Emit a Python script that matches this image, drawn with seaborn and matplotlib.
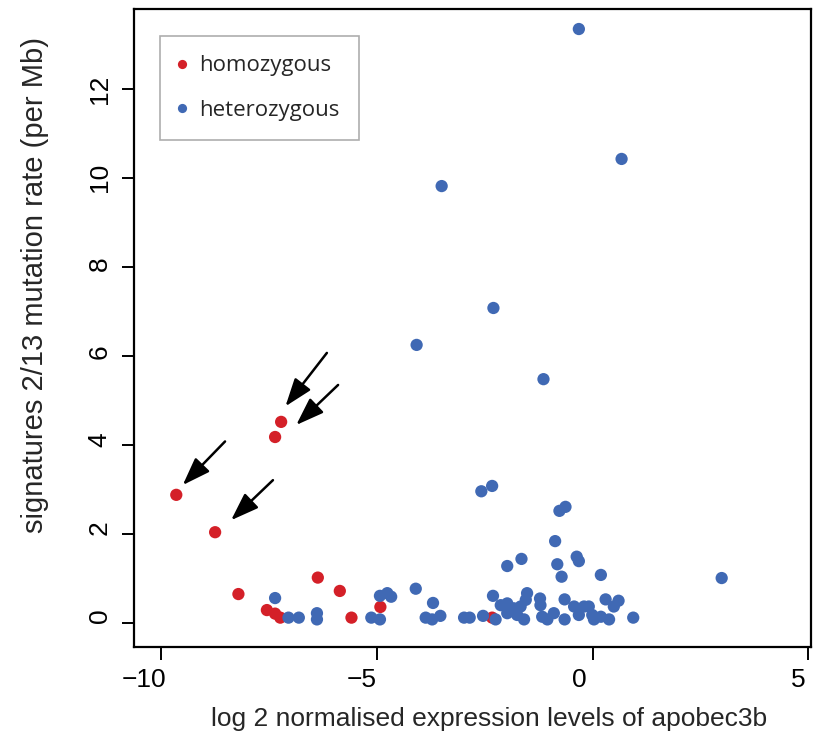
import matplotlib
matplotlib.use("Agg")
import matplotlib.pyplot as plt
import matplotlib.transforms as mtransforms
import seaborn as sns
import pandas as pd

# ---- data ----
homo_x = [-9.65, -8.75, -7.36, -7.22, -8.21, -7.55, -7.36, -7.24, -6.37, -5.86, -5.59, -4.92, -2.33]
homo_y = [2.88, 2.04, 4.18, 4.52, 0.65, 0.29, 0.21, 0.12, 1.02, 0.72, 0.12, 0.36, 0.12]

het_x = [-0.32, 0.67, -3.50, -2.30, -4.08, -1.14,
         -2.58, -2.33, -0.77, -0.63, -0.87, -1.98, -1.65, -0.82, -0.72, -0.37, -0.32, 0.19, 2.99,
         -7.36, -7.05, -6.81, -6.39, -6.39, -5.13, -4.93, -4.93, -4.76, -4.67, -4.10, -3.70,
         -3.87, -3.72, -3.53, -2.98, -2.85, -2.54, -2.31, -2.13, -1.98, -1.83, -1.67, -1.52,
         -1.55, -1.98, -1.75, -1.59, -2.25, -1.22, -1.21, -1.17, -1.05, -0.90, -0.65, -0.65,
         -0.43, -0.32, -0.20, -0.09, -0.01, 0.03, 0.19, 0.30, 0.38, 0.49, 0.60, 0.94]
het_y = [13.35, 10.43, 9.82, 7.08, 6.25, 5.48,
         2.96, 3.08, 2.52, 2.61, 1.84, 1.28, 1.44, 1.32, 1.04, 1.49, 1.39, 1.08, 1.01,
         0.56, 0.12, 0.12, 0.22, 0.08, 0.12, 0.08, 0.61, 0.67, 0.59, 0.77, 0.45,
         0.12, 0.08, 0.16, 0.12, 0.12, 0.16, 0.61, 0.40, 0.44, 0.33, 0.37, 0.67,
         0.52, 0.22, 0.18, 0.08, 0.08, 0.55, 0.40, 0.14, 0.08, 0.22, 0.53, 0.08,
         0.37, 0.18, 0.37, 0.37, 0.18, 0.08, 0.14, 0.53, 0.08, 0.37, 0.50, 0.12]

groups = ["homozygous", "heterozygous"]
colors = ["#D42028", "#4069B4"]

x_ticks = [-10, -5, 0, 5]
x_tick_labels = ["\u221210", "\u22125", "0", "5"]
y_ticks = [0, 2, 4, 6, 8, 10, 12]

# arrows (tail_x, tail_y, tip_x, tip_y) in data units
arrows = [(-6.16, 6.07, -7.12, 4.87),
          (-5.90, 5.35, -6.87, 4.45),
          (-8.52, 4.08, -9.50, 3.10),
          (-7.41, 3.21, -8.38, 2.31)]

df = pd.DataFrame({
    "x": homo_x + het_x,
    "y": homo_y + het_y,
    "group": [groups[0]] * len(homo_x) + [groups[1]] * len(het_x),
})

sns.set_theme(style="white")
plt.rcParams["font.family"] = ["Liberation Sans", "DejaVu Sans"]

fig = plt.figure(figsize=(8.24, 7.47), dpi=100)
ax = fig.add_axes([134 / 824, 1 - 647 / 747, (811 - 134) / 824, (647 - 9) / 747])

sns.scatterplot(data=df, x="x", y="y", hue="group", hue_order=groups,
                palette=colors, s=78, linewidth=0, ax=ax, legend=True)

for tx, ty, hx, hy in arrows:
    ax.annotate("", xy=(hx, hy), xytext=(tx, ty),
                arrowprops=dict(arrowstyle="-|>,head_length=0.9,head_width=0.32",
                                color="black", lw=1.8, shrinkA=0, shrinkB=0,
                                mutation_scale=19))

ax.set_xlim(-10.63, 5.06)
ax.set_ylim(-0.54, 13.8)
ax.set_xticks(x_ticks)
ax.set_xticklabels(x_tick_labels)
ax.set_yticks(y_ticks)
ax.set_yticklabels([str(v) for v in y_ticks], rotation=90, va="center")

ax.tick_params(axis="both", which="both", direction="out", length=9, width=1.4,
               color="black", labelsize=19, labelcolor="black",
               bottom=True, left=True)
ax.tick_params(axis="x", pad=6)
ax.tick_params(axis="y", pad=7)

# small label offsets relative to the ticks, as in the reference layout
for lab, dx in zip(ax.get_xticklabels(), [-17, -15, -13, -10]):
    lab.set_transform(lab.get_transform() +
                      mtransforms.ScaledTranslation(dx / 100, 0, fig.dpi_scale_trans))
for lab, dy in zip(ax.get_yticklabels(), [7, 6, 5, 4, 3, 1, 0]):
    lab.set_transform(lab.get_transform() +
                      mtransforms.ScaledTranslation(0, dy / 100, fig.dpi_scale_trans))

for sp in ax.spines.values():
    sp.set_visible(True)
    sp.set_color("black")
    sp.set_linewidth(1.6)

ax.set_xlabel("log 2 normalised expression levels of apobec3b", fontsize=19)
ax.set_ylabel("signatures 2/13 mutation rate (per Mb)", fontsize=21)
ax.xaxis.set_label_coords(0.524, -0.094)
ax.yaxis.set_label_coords(-0.125, 0.567)

handles, labels = ax.get_legend_handles_labels()
leg = ax.legend(handles, labels, loc="upper left", bbox_to_anchor=(0.038, 0.958),
                borderaxespad=0, frameon=True, fancybox=False, markerscale=0.75,
                prop={"family": "Open Sans", "size": 16}, labelspacing=1.05,
                handletextpad=0.7, handlelength=0.2, borderpad=0.88)
leg.get_frame().set_edgecolor("#999999")
leg.get_frame().set_linewidth(1.2)

fig.savefig("out.png", dpi=100)
